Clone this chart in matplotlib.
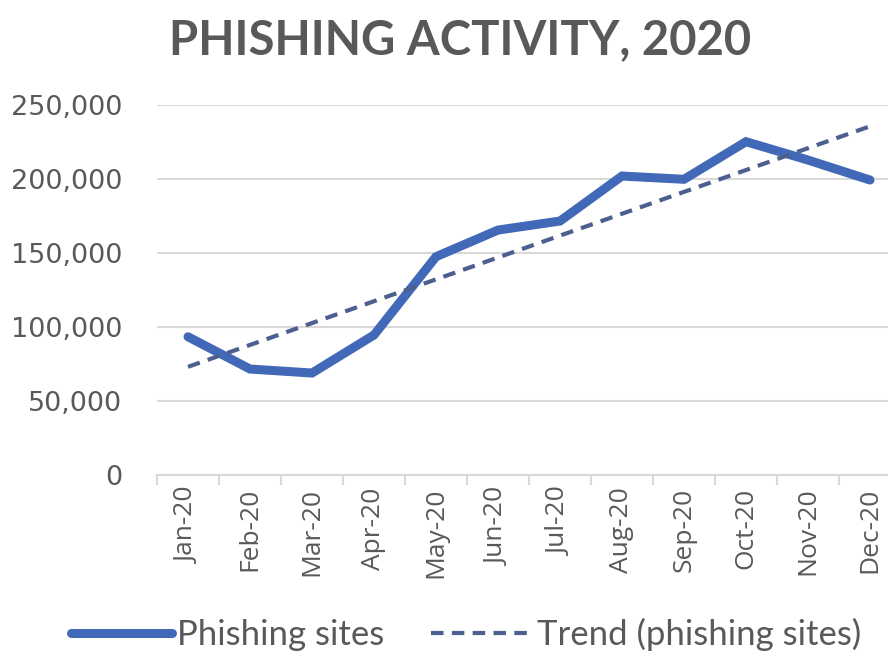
import numpy as np
import matplotlib
matplotlib.use("Agg")
import matplotlib.pyplot as plt

# monthly phishing site counts, 2020
months = ["Jan-20", "Feb-20", "Mar-20", "Apr-20", "May-20", "Jun-20",
          "Jul-20", "Aug-20", "Sep-20", "Oct-20", "Nov-20", "Dec-20"]
phishing_sites = [93400, 71600, 68900, 94600, 147500, 165500,
                  171600, 202000, 199800, 225200, 212800, 199300]
y_ticks = [0, 50000, 100000, 150000, 200000, 250000]

text_color = "#595959"
line_color = "#4169B8"
trend_color = "#4D5F8E"

x = np.arange(len(months))
slope, intercept = np.polyfit(x, phishing_sites, 1)
trend = slope * x + intercept

fig = plt.figure(figsize=(8.88, 6.53), dpi=100)
ax = fig.add_axes([157 / 888, 178 / 653, 744 / 888, 370 / 653])

ax.plot(x, phishing_sites, color=line_color, lw=6.5, solid_capstyle="round",
        solid_joinstyle="miter", label="Phishing sites", zorder=3)
ax.plot(x, trend, color=trend_color, lw=3, ls=(0, (3.0, 2.0)),
        label="Trend (phishing sites)", zorder=4)

ax.set_xlim(-0.5, len(months) - 0.5)
ax.set_ylim(0, 250000)
ax.set_yticks(y_ticks)
ax.set_yticklabels([f"{v:,}" for v in y_ticks], fontsize=19.5,
                   color=text_color, family="DejaVu Sans")
ax.yaxis.grid(True, color="#D9D9D9", lw=1.5)
ax.set_axisbelow(True)
ax.tick_params(axis="y", length=0, pad=25)

# category boundary ticks along the bottom
ax.set_xticks(np.arange(len(months) + 1) - 0.5)
ax.set_xticks(x, minor=True)
ax.set_xticklabels([])
ax.set_xticklabels(months, minor=True, rotation=90, fontsize=19,
                   color=text_color, family="Open Sans")
ax.tick_params(axis="x", which="major", length=7, color="#D9D9D9", width=1.5)
ax.tick_params(axis="x", which="minor", length=0, pad=9)

for side in ["top", "right", "left"]:
    ax.spines[side].set_visible(False)
ax.spines["bottom"].set_color("#D9D9D9")
ax.spines["bottom"].set_linewidth(1.5)

fig.text(0.518, 0.939, "PHISHING ACTIVITY, 2020", ha="center", va="center",
         fontsize=34, fontweight="bold", color=text_color, family="Lato")

handles, labels = ax.get_legend_handles_labels()
leg = fig.legend(handles, labels, loc="center", bbox_to_anchor=(0.525, 0.028),
                 ncol=2, frameon=False, handlelength=2.9, columnspacing=1.35,
                 handletextpad=0.15,
                 prop={"family": "Lato", "size": 25})
for t in leg.get_texts():
    t.set_color(text_color)

fig.savefig("out.png", dpi=100)
